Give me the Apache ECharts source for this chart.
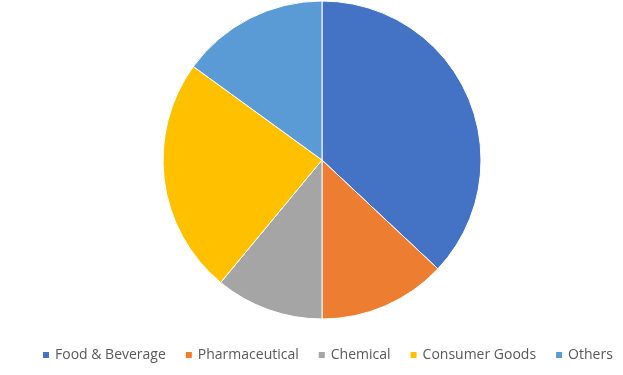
<!DOCTYPE html>
<html>
<head>
<meta charset="utf-8">
<script src="https://cdn.jsdelivr.net/npm/echarts@6/dist/echarts.min.js"></script>
<style>html,body{margin:0;padding:0;background:#fff;}#c{width:623px;height:375px;}</style>
</head>
<body>
<div id="c"></div>
<script>
const categories = ['Food & Beverage', 'Pharmaceutical', 'Chemical', 'Consumer Goods', 'Others'];
const values = [37, 13, 11, 24, 15];
const colors = ['#4472C4', '#ED7D31', '#A5A5A5', '#FFC000', '#5B9BD5'];

const chart = echarts.init(document.getElementById('c'), null, {renderer: 'canvas'});
chart.setOption({
  animation: false,
  color: colors,
  legend: {
    bottom: 8,
    left: 36,
    icon: 'rect',
    itemWidth: 8,
    itemHeight: 8,
    itemGap: 18,
    textStyle: {fontFamily: 'Open Sans', fontSize: 14, color: '#595959'},
    data: categories
  },
  series: [{
    type: 'pie',
    center: [322, 160],
    radius: 159,
    startAngle: 90,
    clockwise: true,
    label: {show: false},
    labelLine: {show: false},
    itemStyle: {borderColor: '#fff', borderWidth: 1},
    data: categories.map((n, i) => ({name: n, value: values[i]}))
  }]
});
</script>
</body>
</html>
